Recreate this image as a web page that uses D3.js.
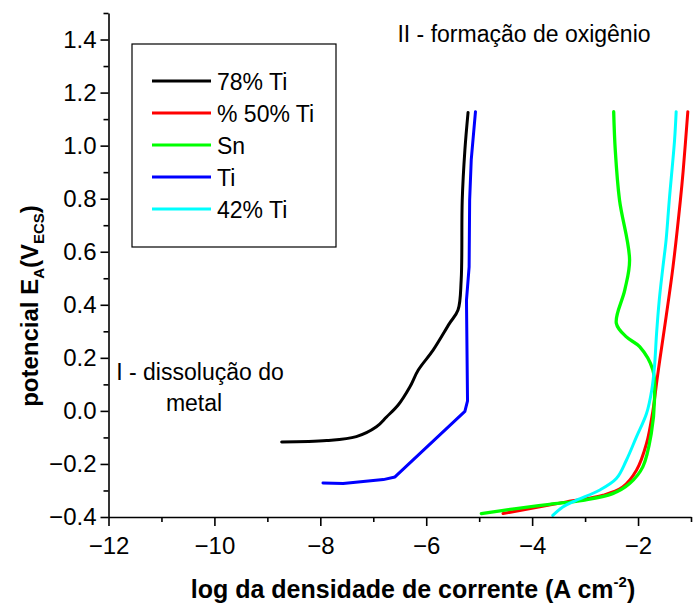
<!DOCTYPE html>
<html>
<head>
<meta charset="utf-8">
<script src="https://cdn.jsdelivr.net/npm/d3@7"></script>
<style>
  body { margin: 0; background: #fff; }
  svg text { font-family: "Liberation Sans", Arial, sans-serif; fill: #000; }
</style>
</head>
<body>
<div id="chart"></div>
<script>
// legend order
const seriesNames = ["78% Ti", "% 50% Ti", "Sn", "Ti", "42% Ti"];
const seriesColors = ["#000000", "#ff0000", "#00ff00", "#0000ff", "#00ffff"];

// [log i, E]
const ti78 = [
  [-8.73, -0.117], [-7.88, -0.112], [-7.32, -0.097], [-6.94, -0.06], [-6.75, -0.023],
  [-6.53, 0.022], [-6.31, 0.09], [-6.15, 0.154], [-5.87, 0.229], [-5.56, 0.33],
  [-5.40, 0.38], [-5.34, 0.493], [-5.32, 0.795], [-5.27, 0.983], [-5.21, 1.125]
];
const ti50 = [
  [-4.55, -0.387], [-3.35, -0.343], [-2.66, -0.318], [-2.29, -0.287], [-2.03, -0.224],
  [-1.84, -0.123], [-1.72, 0.0], [-1.64, 0.12], [-1.59, 0.191], [-1.47, 0.355],
  [-1.34, 0.543], [-1.20, 0.795], [-1.15, 0.90], [-1.06, 1.128]
];
const sn = [
  [-4.96, -0.387], [-4.30, -0.368], [-3.67, -0.352], [-3.04, -0.337], [-2.48, -0.312],
  [-2.16, -0.274], [-1.91, -0.211], [-1.75, -0.085], [-1.69, 0.04], [-1.72, 0.154],
  [-1.97, 0.242], [-2.22, 0.279], [-2.41, 0.33], [-2.25, 0.456], [-2.16, 0.569],
  [-2.35, 0.795], [-2.43, 0.983], [-2.46, 1.128]
];
const ti = [
  [-7.95, -0.272], [-7.57, -0.274], [-6.81, -0.259], [-6.59, -0.249], [-5.27, -0.002],
  [-5.22, 0.038], [-5.24, 0.417], [-5.19, 0.543], [-5.18, 0.795], [-5.15, 0.946],
  [-5.07, 1.128]
];
const ti42 = [
  [-3.61, -0.394], [-3.42, -0.362], [-3.17, -0.337], [-2.73, -0.299], [-2.41, -0.255],
  [-2.22, -0.186], [-2.03, -0.098], [-1.84, -0.01], [-1.74, 0.08], [-1.69, 0.166],
  [-1.65, 0.292], [-1.60, 0.417], [-1.53, 0.543], [-1.47, 0.645], [-1.41, 0.795],
  [-1.31, 1.022], [-1.28, 1.128]
];
const seriesData = [ti78, ti50, sn, ti, ti42];

const xTicks = [-12, -10, -8, -6, -4, -2];
const xMinor = [-11, -9, -7, -5, -3, -1];
const yTicks = [-0.4, -0.2, 0.0, 0.2, 0.4, 0.6, 0.8, 1.0, 1.2, 1.4];
const yMinor = [-0.3, -0.1, 0.1, 0.3, 0.5, 0.7, 0.9, 1.1, 1.3, 1.5];

const width = 694, height = 609;
const margin = { top: 13, right: 3, bottom: 92, left: 108.5 };

const svg = d3.select("#chart").append("svg")
  .attr("width", width)
  .attr("height", height);

const x = d3.scaleLinear().domain([-12, -1]).range([margin.left, width - margin.right]);
const y = d3.scaleLinear().domain([-0.4, 1.5]).range([height - margin.bottom, margin.top]);

// series (Ti has sharp corners, the others are smooth)
const smooth = d3.line().x(d => x(d[0])).y(d => y(d[1])).curve(d3.curveCatmullRom.alpha(0.5));
const straight = d3.line().x(d => x(d[0])).y(d => y(d[1]));
svg.append("g").selectAll("path")
  .data(seriesData)
  .join("path")
  .attr("d", (d, i) => i == 3 ? straight(d) : smooth(d))
  .attr("fill", "none")
  .attr("stroke", (d, i) => seriesColors[i])
  .attr("stroke-width", (d, i) => i == 2 ? 3.3 : 3)
  .attr("stroke-linejoin", "round")
  .attr("stroke-linecap", "round");

// axes
svg.append("g")
  .attr("transform", `translate(0,${y(-0.4)})`)
  .call(d3.axisBottom(x).tickValues(xTicks).tickFormat(d3.format("d"))
    .tickSize(9).tickPadding(11).tickSizeOuter(0));
svg.append("g")
  .attr("transform", `translate(0,${y(-0.4)})`)
  .call(d3.axisBottom(x).tickValues(xMinor).tickFormat("").tickSize(5).tickSizeOuter(0))
  .select(".domain").remove();

svg.append("g")
  .attr("transform", `translate(${x(-12)},0)`)
  .call(d3.axisLeft(y).tickValues(yTicks).tickFormat(d3.format(".1f"))
    .tickSize(8).tickPadding(4).tickSizeOuter(0));
svg.append("g")
  .attr("transform", `translate(${x(-12)},0)`)
  .call(d3.axisLeft(y).tickValues(yMinor).tickFormat("").tickSize(5).tickSizeOuter(0))
  .select(".domain").remove();

svg.selectAll(".domain, .tick line").attr("stroke", "#000").attr("stroke-width", 1.6);
svg.selectAll(".tick text")
  .attr("font-size", 24)
  .attr("fill", "#000");

// axis titles
svg.append("text")
  .attr("x", 413).attr("y", 598)
  .attr("text-anchor", "middle")
  .attr("font-size", 25).attr("font-weight", "bold")
  .html('log da densidade de corrente (A cm<tspan dy="-11" font-size="15">-2</tspan><tspan dy="11">)</tspan>');

svg.append("text")
  .attr("transform", "translate(38,306) rotate(-90)")
  .attr("text-anchor", "middle")
  .attr("font-size", 24).attr("font-weight", "bold")
  .html('potencial E<tspan dy="6" font-size="15">A</tspan><tspan dy="-6">(V</tspan><tspan dy="6" font-size="15">ECS</tspan><tspan dy="-6">)</tspan>');

// annotations
svg.append("text").attr("x", 524).attr("y", 42).attr("text-anchor", "middle")
  .attr("font-size", 23).text("II - formação de oxigênio");
svg.append("text").attr("x", 200).attr("y", 380).attr("text-anchor", "middle")
  .attr("font-size", 23).text("I - dissolução do");
svg.append("text").attr("x", 194).attr("y", 411).attr("text-anchor", "middle")
  .attr("font-size", 23).text("metal");

// legend
const legend = svg.append("g").attr("transform", "translate(132,44)");
legend.append("rect")
  .attr("width", 204).attr("height", 203)
  .attr("fill", "#fff").attr("stroke", "#000").attr("stroke-width", 1.2);
const item = legend.selectAll(".item")
  .data(seriesNames)
  .join("g")
  .attr("class", "item")
  .attr("transform", (d, i) => `translate(0,${37 + i * 32})`);
item.append("line")
  .attr("x1", 20).attr("x2", 79)
  .attr("stroke", (d, i) => seriesColors[i])
  .attr("stroke-width", 3);
item.append("text")
  .attr("x", 85).attr("y", 9)
  .attr("font-size", 23)
  .text(d => d);
</script>
</body>
</html>
